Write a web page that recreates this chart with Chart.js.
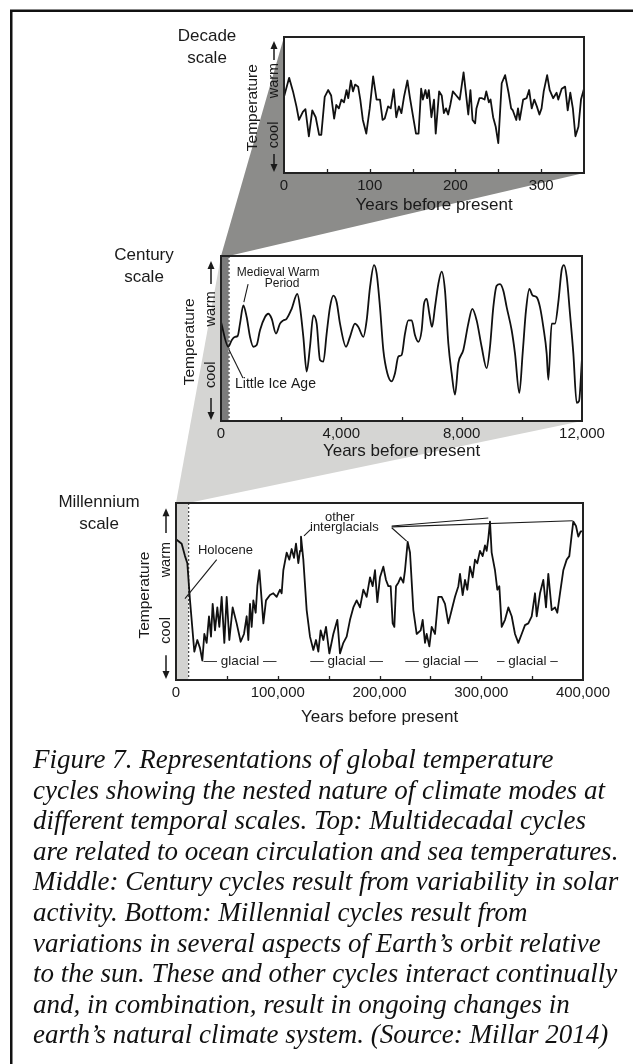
<!DOCTYPE html>
<html>
<head>
<meta charset="utf-8">
<script src="https://cdn.jsdelivr.net/npm/chart.js@4.4.1/dist/chart.umd.min.js"></script>
<style>
  body { margin: 0; background: #fff; width: 633px; height: 1064px; overflow: hidden; position: relative; }
  canvas { position: absolute; left: 0; }
  #caption { position: absolute; left: 33px; top: 744px; font: italic 27px/30.6px "Liberation Serif", "Times New Roman", serif; color: #111; white-space: nowrap; }
</style>
</head>
<body>
<canvas id="bg" width="633" height="1064" style="top:0"></canvas>
<canvas id="decadeChart"></canvas>
<canvas id="centuryChart"></canvas>
<canvas id="millenniumChart"></canvas>
<div id="caption">Figure 7. Representations of global temperature<br>cycles showing the nested nature of climate modes at<br>different temporal scales. Top: Multidecadal cycles<br>are related to ocean circulation and sea temperatures.<br>Middle: Century cycles result from variability in solar<br>activity. Bottom: Millennial cycles result from<br>variations in several aspects of Earth’s orbit relative<br>to the sun. These and other cycles interact continually<br>and, in combination, result in ongoing changes in<br>earth’s natural climate system. (Source: Millar 2014)</div>
<script>
// Decade scale (years before present vs relative temperature 0-100)
const decadeYears = [0,6,10.5,14.5,17.5,22,25,29,33,37,41,43.5,47.5,51.5,55,58.5,61,64,67,70,73,75,78,80.5,83,86.5,89,92,96,100,104,108,112,115,117.5,121.5,124.5,128,131,134,137,140,144,147,151,154,157,160,162,165,167,169,172,175,177,181,184,186.5,189,191.5,194,197,201,205,209.5,212,215,217.5,220,223,224.5,228,231,234,236,239,241,244,247,250,254,258,262,265,267,271,273,275,279,283,286,289,292,295,298,300.5,303,307,310,314,318,320,324,328,331,334,337,340,343.5,346.5,350];
const decadeTemp = [56,70,60,49,39,45,47,27,46,41,28,28,56,61,57,40,50,47.5,54,52,61,55,68,60,65,63.5,54,39,29,47.5,71,54,54,39,40,49,47.5,61.5,41,49,44,56,68,55,40,29,29,62,54,61,55,61,41,54,29,60,57,44,47.5,43,50,60,57,54,74,60,43,61,39,36.5,47.5,55,55,54,60,52,54,41,34,22,66,72,59,47.5,46,39,47.5,39,54,55,61,47.5,54,49,43,47.5,60,72,61,55,59,54,62,63.5,46,59,47.5,27,34,54,62];
const decadeTicks = [0,50,100,150,200,250,300,350];
const decadeLabels = [0,100,200,300];

// Century scale
const centuryYears = [0,244,355,465,554,632,742,853,964,1075,1186,1296,1463,1573,1684,1828,1961,2072,2183,2349,2537,2626,2737,2848,2958,3069,3180,3291,3402,3512,3623,3734,3845,3956,4155,4288,4454,4565,4731,4842,4953,5086,5174,5285,5396,5529,5673,5784,5894,6005,6116,6227,6338,6449,6559,6670,6748,6837,6925,7014,7113,7224,7335,7446,7557,7667,7778,7889,8055,8221,8354,8498,8664,8831,8942,9052,9163,9274,9385,9496,9662,9772,9917,10027,10138,10249,10360,10493,10604,10714,10825,10881,10992,11102,11213,11324,11400,11491,11601,11712,11823,11901,12000];
const centuryTemp = [60,45,49,51,51.5,59,70,63,51,45,46,55,63,65,62,53,59,61,62,68,77,69,51,30,45,64,59,37,36,53,69,76,72,59,45,51,59,57,51,61,81,94.5,89.5,69,43,29,24,29,39,40,53,61,61,52,48,55,71,74,65,57,69,83,90.5,79,47,29,16,35,43,59,68,61,45,32,45,69,82,83,79,69,55,41,17,41,67,80,76,75,69,57,41,25,59,59,72,91.5,94.5,87.5,65,41,11,12,38];
const centuryTicks = [0,2000,4000,6000,8000,10000,12000];
const centuryLabels = [0,4000,8000,12000];
const centuryStripEnd = 250;

// Millennium scale
const millenniumYears = [0,5570,8850,11140,13760,18000,20960,23590,25880,27840,30130,32430,34400,36040,38330,40620,42590,44880,47500,49800,52420,55690,59620,63550,66830,69450,71090,72730,74370,76010,78310,79950,81920,84220,85860,88450,92380,95660,98930,102210,103850,105490,108770,111390,113680,115970,117930,120220,121870,122850,125140,128420,131690,134970,137590,139880,142180,144800,147420,150700,154630,158560,161180,164460,167730,171010,174290,177560,180840,184120,187390,190670,193290,195580,197870,200490,203770,206390,208690,210980,212950,214590,216220,218520,220810,223430,225070,227690,229980,233260,236540,240470,242430,244730,246370,248990,251280,254560,257840,261120,264380,267660,270950,274210,277500,279120,281750,284030,286320,288940,291570,293860,296150,298770,301390,303680,305320,306950,308590,310230,313500,315790,317760,320120,323340,326620,329920,333180,336420,339740,342990,346270,349580,352830,354500,357740,361000,363650,365900,369250,372490,374750,377400,380640,383980,386530,388890,390450,393120,395380,397730,400000];
const millenniumTemp = [79.5,77,70,66,45,16,22.6,18,11,26,21,36,24.5,43,28,41,30,47,21,47,22.6,41,32,21.6,26,36,22.6,43,30,45,38,53,62,45,32,45,48,49,47,51,49,62,72,68,74,69,77,66,73,81,68,39.5,24.5,17,22.6,16,28,22.6,30,15,26,34,15,21,24.5,34,41,45,41,51,47,58,53,62,44,58,64,56.5,53,53,32,30,53,55,58,55,62,78,72,39.5,26,28,34,21,26,19,30,26,47,47,43,32,39.5,47,53,60,48,56.5,51,64,58,68,66,73,70,76,73,80,89.5,72,62,51,53,30,34,41,36,26,21,26,31,32,36,49,36,49,56.5,41,60,39.5,41,38,49,62,68,70,82,89.5,87,81,84,84];
const millenniumTicks = [0,50000,100000,150000,200000,250000,300000,350000,400000];
const millenniumLabels = [0,100000,200000,300000,400000];
const millenniumStripEnd = 12000;

const SANS = '"Liberation Sans", Arial, Helvetica, sans-serif';
const INK = '#1a1a1a';

function drawArrow(ctx, x, from, to) {
  const d = to < from ? 1 : -1;
  ctx.beginPath();
  ctx.moveTo(x, from);
  ctx.lineTo(x, to + d * 6);
  ctx.stroke();
  ctx.beginPath();
  ctx.moveTo(x, to);
  ctx.lineTo(x - 3.5, to + d * 8);
  ctx.lineTo(x + 3.5, to + d * 8);
  ctx.closePath();
  ctx.fill();
}

function rotText(ctx, text, x, y) {
  ctx.save();
  ctx.translate(x, y);
  ctx.rotate(-Math.PI / 2);
  ctx.textAlign = 'center';
  ctx.textBaseline = 'middle';
  ctx.fillText(text, 0, 0);
  ctx.restore();
}

function panelPlugin(cfg) {
  return {
    id: 'panel',
    beforeDraw(chart) {
      const { ctx, chartArea: a } = chart;
      ctx.save();
      ctx.fillStyle = '#fff';
      ctx.fillRect(a.left, a.top, a.width, a.height);
      ctx.restore();
    },
    beforeDatasetsDraw(chart) {
      if (!cfg.strip) return;
      const { ctx, chartArea: a, scales: { x } } = chart;
      const x1 = x.getPixelForValue(cfg.strip.end);
      ctx.save();
      ctx.fillStyle = cfg.strip.color;
      ctx.fillRect(a.left, a.top, x1 - a.left, a.height);
      ctx.setLineDash([2, 2]);
      ctx.lineWidth = 1;
      ctx.strokeStyle = '#222';
      ctx.beginPath();
      ctx.moveTo(x1 + 0.5, a.top);
      ctx.lineTo(x1 + 0.5, a.bottom);
      ctx.stroke();
      ctx.restore();
    },
    afterDraw(chart) {
      const { ctx, chartArea: a, scales: { x, y } } = chart;
      ctx.save();
      // frame
      ctx.strokeStyle = '#222';
      ctx.lineWidth = 2;
      ctx.strokeRect(a.left, a.top, a.width, a.height);
      // inward ticks
      ctx.lineWidth = 1.3;
      cfg.ticks.slice(1, -1).forEach(v => {
        const px = Math.round(x.getPixelForValue(v)) + 0.5;
        ctx.beginPath();
        ctx.moveTo(px, a.bottom);
        ctx.lineTo(px, a.bottom - 4);
        ctx.stroke();
      });
      // y axis wording
      const h = a.height;
      ctx.fillStyle = INK;
      ctx.strokeStyle = INK;
      ctx.lineWidth = 1.5;
      ctx.font = '15.5px ' + SANS;
      rotText(ctx, 'Temperature', a.left - 31, a.top + h * 0.52);
      ctx.font = '14.5px ' + SANS;
      rotText(ctx, 'warm', a.left - 10, a.top + h * 0.32);
      rotText(ctx, 'cool', a.left - 10, a.top + h * 0.72);
      drawArrow(ctx, a.left - 10, a.top + h * 0.17, a.top + h * 0.03);
      drawArrow(ctx, a.left - 10, a.top + h * 0.86, a.bottom - 1);
      // scale name
      ctx.font = '17px ' + SANS;
      ctx.textAlign = 'center';
      ctx.textBaseline = 'middle';
      ctx.fillText(cfg.name[0], a.left - 77, a.top - 1);
      ctx.fillText(cfg.name[1], a.left - 77, a.top + 21);
      // notes and leader lines
      ctx.lineWidth = 1.1;
      (cfg.leaders || []).forEach(l => {
        ctx.beginPath();
        ctx.moveTo(x.getPixelForValue(l[0]), y.getPixelForValue(l[1]));
        ctx.lineTo(x.getPixelForValue(l[2]), y.getPixelForValue(l[3]));
        ctx.stroke();
      });
      (cfg.notes || []).forEach(n => {
        ctx.font = n.size + 'px ' + SANS;
        ctx.textAlign = n.align;
        ctx.fillText(n.t, x.getPixelForValue(n.x), y.getPixelForValue(n.y));
      });
      ctx.restore();
    }
  };
}

function makeChart(id, top, box, xh, years, temps, ticks, labels, cfg, smooth) {
  const canvas = document.getElementById(id);
  canvas.style.top = top + 'px';
  canvas.width = 633;
  canvas.height = box.b - top + xh;
  return new Chart(canvas, {
    type: 'line',
    data: {
      datasets: [{
        data: years.map((v, i) => ({ x: v, y: temps[i] })),
        borderColor: '#111',
        borderWidth: 1.8,
        pointRadius: 0,
        fill: false,
        borderJoinStyle: 'round',
        cubicInterpolationMode: smooth ? 'monotone' : 'default',
        tension: 0
      }]
    },
    options: {
      responsive: false,
      animation: false,
      events: [],
      layout: { padding: { left: box.l, right: 633 - box.r, top: box.t - top, bottom: 0 } },
      plugins: { legend: { display: false }, tooltip: { enabled: false } },
      scales: {
        x: {
          type: 'linear',
          min: ticks[0],
          max: ticks[ticks.length - 1],
          grid: { display: false, drawTicks: false },
          border: { display: false },
          afterBuildTicks: s => { s.ticks = ticks.map(v => ({ value: v })); },
          afterFit: s => { s.height = xh; },
          ticks: {
            autoSkip: false,
            maxRotation: 0,
            padding: 4,
            color: INK,
            font: { family: SANS, size: 15 },
            callback: v => labels.includes(v) ? v.toLocaleString('en-US') : ''
          },
          title: { display: true, text: 'Years before present', color: INK, font: { family: SANS, size: 17 }, padding: 0 }
        },
        y: { display: false, min: 0, max: 100 }
      }
    },
    plugins: [panelPlugin(cfg)]
  });
}

const decadeTop = 20, centuryTop = 230, millenniumTop = 475;

const decadeChart = makeChart('decadeChart', decadeTop, { l: 284, r: 584, t: 37, b: 173 }, 43,
  decadeYears, decadeTemp, decadeTicks, decadeLabels,
  { ticks: decadeTicks, name: ['Decade', 'scale'] }, false);

const centuryChart = makeChart('centuryChart', centuryTop, { l: 221, r: 582, t: 256, b: 421 }, 41,
  centuryYears, centuryTemp, centuryTicks, centuryLabels,
  {
    ticks: centuryTicks, name: ['Century', 'scale'],
    strip: { end: centuryStripEnd, color: '#7b7b7b' },
    notes: [
      { t: 'Medieval Warm', x: 1900, y: 90, align: 'center', size: 12 },
      { t: 'Period', x: 2030, y: 83.5, align: 'center', size: 12 },
      { t: 'Little Ice Age', x: 465, y: 22.4, align: 'left', size: 14 }
    ],
    leaders: [[900, 83, 760, 72], [270, 43, 730, 26]]
  }, true);

const millenniumChart = makeChart('millenniumChart', millenniumTop, { l: 176, r: 583, t: 503, b: 680 }, 48,
  millenniumYears, millenniumTemp, millenniumTicks, millenniumLabels,
  {
    ticks: millenniumTicks, name: ['Millennium', 'scale'],
    strip: { end: millenniumStripEnd, color: '#d3d3d1' },
    notes: [
      { t: 'Holocene', x: 21600, y: 73, align: 'left', size: 13 },
      { t: 'other', x: 146400, y: 92, align: 'left', size: 13 },
      { t: 'interglacials', x: 131700, y: 86.4, align: 'left', size: 13 },
      { t: '— glacial —', x: 62900, y: 10.3, align: 'center', size: 13.5 },
      { t: '— glacial —', x: 167800, y: 10.3, align: 'center', size: 13.5 },
      { t: '— glacial —', x: 261100, y: 10.3, align: 'center', size: 13.5 },
      { t: '– glacial –', x: 345300, y: 10.3, align: 'center', size: 13.5 }
    ],
    leaders: [[8800, 46, 40000, 68], [125800, 81.4, 132400, 85.1], [212000, 86, 226700, 78.5],
              [212000, 87, 306900, 91.5], [212000, 86.5, 389900, 90]]
  }, false);

// funnels and outer frame on the page canvas, placed through the charts' own scales
function corner(chart, top, xv, edge) {
  return [chart.scales.x.getPixelForValue(xv), top + chart.chartArea[edge]];
}
function funnel(ctx, pts, color) {
  ctx.fillStyle = color;
  ctx.beginPath();
  pts.forEach((p, i) => i ? ctx.lineTo(p[0], p[1]) : ctx.moveTo(p[0], p[1]));
  ctx.closePath();
  ctx.fill();
}
const bg = document.getElementById('bg').getContext('2d');
funnel(bg, [
  corner(decadeChart, decadeTop, decadeTicks[0], 'top'),
  corner(decadeChart, decadeTop, decadeTicks[decadeTicks.length - 1], 'bottom'),
  corner(centuryChart, centuryTop, centuryStripEnd, 'top'),
  corner(centuryChart, centuryTop, 0, 'top')
], '#8c8c8a');
funnel(bg, [
  corner(centuryChart, centuryTop, centuryTicks[0], 'top'),
  corner(centuryChart, centuryTop, centuryTicks[centuryTicks.length - 1], 'bottom'),
  corner(millenniumChart, millenniumTop, millenniumStripEnd, 'top'),
  corner(millenniumChart, millenniumTop, 0, 'top')
], '#d5d5d3');
bg.strokeStyle = '#111';
bg.lineWidth = 2.5;
bg.beginPath();
bg.moveTo(11.25, 1064);
bg.lineTo(11.25, 10.75);
bg.lineTo(633, 10.75);
bg.stroke();
</script>
</body>
</html>
